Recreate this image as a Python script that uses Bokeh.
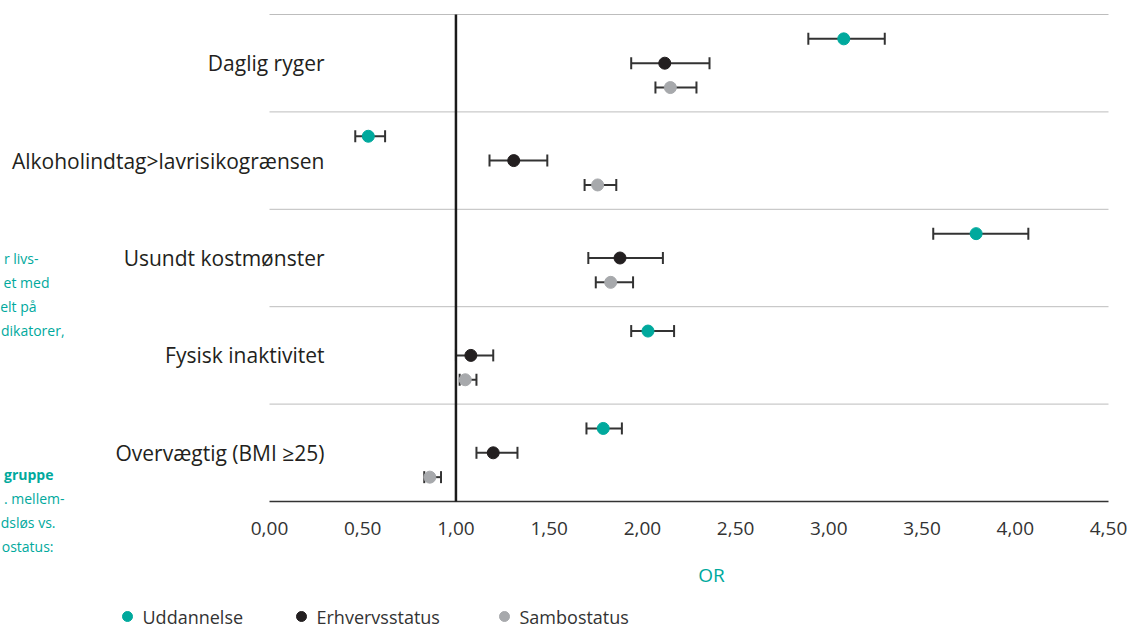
from bokeh.plotting import figure
from bokeh.models import ColumnDataSource, Whisker, TeeHead
from bokeh.core.properties import value
from bokeh.embed import file_html
from bokeh.resources import INLINE

categories = ["Daglig ryger", "Alkoholindtag>lavrisikogrænsen", "Usundt kostmønster",
              "Fysisk inaktivitet", "Overvægtig (BMI ≥25)"]
series_names = ["Uddannelse", "Erhvervsstatus", "Sambostatus"]

uddannelse_or = [3.08, 0.53, 3.79, 2.03, 1.79]
uddannelse_lo = [2.89, 0.46, 3.56, 1.94, 1.70]
uddannelse_hi = [3.30, 0.62, 4.07, 2.17, 1.89]

erhverv_or = [2.12, 1.31, 1.88, 1.08, 1.20]
erhverv_lo = [1.94, 1.18, 1.71, 1.00, 1.11]
erhverv_hi = [2.36, 1.49, 2.11, 1.20, 1.33]

sambo_or = [2.15, 1.76, 1.83, 1.05, 0.86]
sambo_lo = [2.07, 1.69, 1.75, 1.02, 0.83]
sambo_hi = [2.29, 1.86, 1.95, 1.11, 0.92]

tick_values = [0.0, 0.5, 1.0, 1.5, 2.0, 2.5, 3.0, 3.5, 4.0, 4.5]
tick_labels = ["0,00", "0,50", "1,00", "1,50", "2,00", "2,50", "3,00", "3,50", "4,00", "4,50"]
axis_title = "OR"

side_text = ["r livs-", "et med", "elt på", "dikatorer,", "gruppe", ". mellem-", "dsløs vs.", "ostatus:"]

TEAL = "#00A99D"
DARK = "#231F20"
GRAY = "#A7A9AC"
BAR = "#333333"
FONT = "Open Sans"

W, H = 1131, 629
# layout: value 0 at px 269, 4.5 at px 1108; group top y=5 at px 14, y=0 at px 501
X0, XPX = 269.0, (1108.0 - 269.0) / 4.5
Y0, YPX = 501.0, (501.0 - 14.0) / 5.0


def px2x(px):
    return (px - X0) / XPX


def px2y(py):
    return (Y0 - py) / YPX


p = figure(width=W, height=H, output_backend="svg", toolbar_location=None,
           x_range=(px2x(0), px2x(W)), y_range=(px2y(H), px2y(0)),
           x_axis_type=None, y_axis_type=None, min_border=0)
p.outline_line_color = None
p.background_fill_color = "white"
p.border_fill_color = "white"
p.xgrid.visible = False
p.ygrid.visible = False

n = len(categories)
centers = [n - 0.5 - i for i in range(n)]
offsets = [0.25, 0.0, -0.25]
x_min, x_max = tick_values[0], tick_values[-1]

# separators
sep_y = [float(k) for k in range(1, n + 1)]
p.segment(x0=[x_min] * n, x1=[x_max] * n, y0=sep_y, y1=sep_y, line_color="#BDBDBD", line_width=1)
# x axis line
p.segment(x0=[x_min], x1=[x_max], y0=[0], y1=[0], line_color=BAR, line_width=1.5)
# reference line at OR = 1
p.segment(x0=[1.0], x1=[1.0], y0=[0], y1=[n], line_color="#1a1a1a", line_width=2.5)

# tick labels
p.text(x=tick_values, y=[px2y(528)] * len(tick_values), text=tick_labels,
       text_align="center", text_baseline="middle", text_font=value(FONT),
       text_font_size="19px", text_color="#333333")
# axis title
p.text(x=[px2x(711)], y=[px2y(574)], text=[axis_title], text_align="center",
       text_baseline="middle", text_font=value(FONT), text_font_size="19px", text_color=TEAL)

series = [(uddannelse_or, uddannelse_lo, uddannelse_hi, TEAL),
          (erhverv_or, erhverv_lo, erhverv_hi, DARK),
          (sambo_or, sambo_lo, sambo_hi, GRAY)]
for k, (orv, lo, hi, col) in enumerate(series):
    ys = [c + offsets[k] for c in centers]
    src = ColumnDataSource(dict(y=ys, x=orv, lo=lo, hi=hi))
    w = Whisker(source=src, base="y", lower="lo", upper="hi", dimension="width",
                line_color=BAR, line_width=2,
                lower_head=TeeHead(size=12, line_color=BAR, line_width=2),
                upper_head=TeeHead(size=12, line_color=BAR, line_width=2))
    p.add_layout(w)
    p.scatter(x="x", y="y", source=src, size=12, fill_color=col, line_color=col)

# category labels
p.text(x=[px2x(324)] * n, y=centers, text=categories, text_align="right",
       text_baseline="middle", text_font=value(FONT), text_font_size="21px",
       text_color=DARK)

# side text fragments (cropped column at left)
side_ends = [38, 49, 36, 64, 53, 64, 55, 53]
side_y = [258, 282, 306, 330, 474, 498, 522, 546]
for t, xe, ys in zip(side_text, side_ends, side_y):
    p.text(x=[px2x(xe)], y=[px2y(ys)], text=[t], text_align="right", text_baseline="middle",
           text_font=value(FONT), text_font_size="14px", text_color=TEAL,
           text_font_style="bold" if t == "gruppe" else "normal")

# legend
leg_dot_px = [127, 301, 504]
leg_y = px2y(616)
leg_cols = [TEAL, DARK, GRAY]
p.scatter(x=[px2x(v) for v in leg_dot_px], y=[leg_y] * 3, size=10,
          fill_color=leg_cols, line_color=leg_cols)
p.text(x=[px2x(v + 15) for v in leg_dot_px], y=[leg_y] * 3, text=series_names,
       text_align="left", text_baseline="middle", text_font=value(FONT),
       text_font_size="18px", text_color="#333333")

open("out.html", "w").write(file_html(p, INLINE))
